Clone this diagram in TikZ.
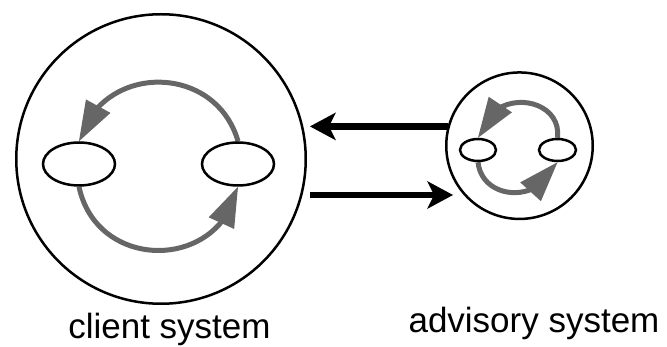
\documentclass[tikz,border=0pt]{standalone}
\usepackage{fontspec}
\setmainfont{Liberation Sans}
\usetikzlibrary{arrows.meta,bending,shapes.geometric,backgrounds}
\definecolor{loopgray}{HTML}{666666}
\begin{document}
\begin{tikzpicture}[x=1pt,y=-1pt,
  system/.style={draw, circle, line width=2.5pt, inner sep=0pt},
  state/.style={draw, ellipse, line width=2.5pt, inner sep=0pt, fill=white},
  loop/.style={draw=loopgray, line width=5pt,
    -{Triangle[length=40pt,width=28pt,line width=0pt,flex]}},
  flow/.style={line width=6.5pt,
    -{Stealth[length=26pt,width=28pt,inset=7pt,line width=0pt]}},
  caption/.style={font=\fontsize{35}{40}\selectfont, anchor=base, inner sep=0pt}]
\useasboundingbox (0,0) rectangle (667,347);

% the two systems
\node[system, minimum size=289.5pt] (client) at (161,159) {};
\node[system, minimum size=146.5pt] (advisory) at (519.5,145.7) {};

% states inside the client system
\node[state, minimum width=72pt, minimum height=43pt] (cL) at (79,164) {};
\node[state, minimum width=72pt, minimum height=43pt] (cR) at (238,164) {};

% states inside the advisory system
\node[state, minimum width=36pt, minimum height=22pt] (aL) at (478,150) {};
\node[state, minimum width=37pt, minimum height=22pt] (aR) at (557.5,150) {};

% internal cycles
\begin{pgfonlayer}{background}
  \draw[loop] (cR.north) .. controls +(-22.6,-78.8) and +(22.6,-78.8) .. (cL.north);
  \draw[loop] (cL.south) .. controls +(18,85) and +(-18,85) .. (cR.south);
  \draw[loop] (aR.north) .. controls +(5,-42) and +(12,-52) .. (aL.north);
  \draw[loop] (aL.south) .. controls +(4,38) and +(-17,43) .. (aR.south);
\end{pgfonlayer}

% exchange between the systems
\coordinate (toAdvisory) at (453,195);
\draw[flow, shorten >=3pt] (advisory.165) -- (client.east |- advisory.165);
\draw[flow, shorten <=3pt] (client.east |- toAdvisory) -- (toAdvisory);

% captions
\node[caption] (clientLabel) at (169.5,339) {client system};
\node[caption] (advisoryLabel) at (534,333) {advisory system};
\end{tikzpicture}
\end{document}
